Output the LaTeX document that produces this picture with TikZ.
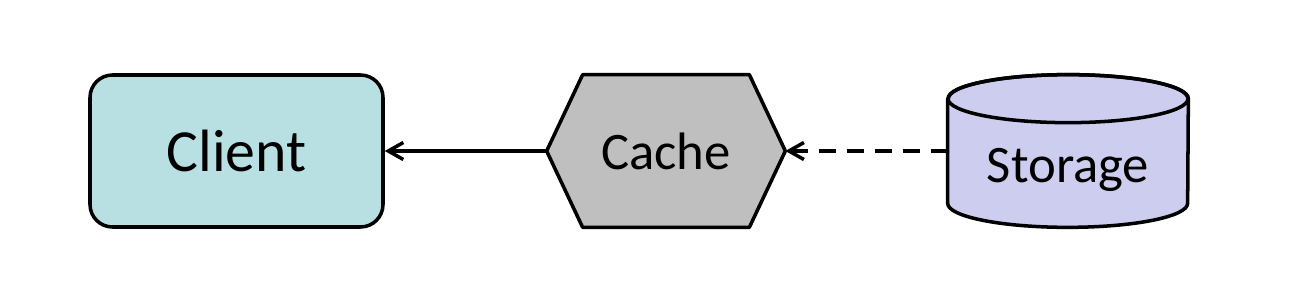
\documentclass[tikz,border=0pt]{standalone}
\usepackage{fontspec}
\setmainfont{Carlito}
\usetikzlibrary{arrows.meta,backgrounds}
\definecolor{clientfill}{RGB}{184,224,227}
\definecolor{cachefill}{RGB}{191,191,191}
\definecolor{storefill}{RGB}{205,205,239}

\begin{document}
\begin{tikzpicture}[
    box/.style={minimum height=3.04cm, inner sep=0pt},
    edge/.style={draw, line width=2pt, line join=round},
    link/.style={line width=2pt, {Straight Barb[length=0.3cm, width=0.34cm]}-}
  ]
            \useasboundingbox (0,0) rectangle (25.8,5.92);
            % Client
            \node[box, edge, fill=clientfill, rounded corners=0.45cm, minimum width=5.86cm, font=\fontsize{34}{40}\selectfont] (client) at (4.73,2.9) {Client};
            % Cache
            \node[box, minimum width=4.76cm, font=\fontsize{30}{36}\selectfont] (cache) at (13.32,2.9) {Cache};
            % Storage
            \node[box, minimum width=4.8cm] (storage) at (21.36,2.9) {};
            \node[font=\fontsize{30}{36}\selectfont] (storagetext) at ([yshift=-0.38cm]storage.center) {Storage};
            \begin{scope}[on background layer]
              % hexagon
              \path[edge, fill=cachefill] (cache.west) -- ([xshift=0.72cm]cache.north west) -- ([xshift=-0.72cm]cache.north east)
                -- (cache.east) -- ([xshift=-0.72cm]cache.south east) -- ([xshift=0.72cm]cache.south west) -- cycle;
              % cylinder
              \path[edge, fill=storefill] ([yshift=-0.48cm]storage.north west) -- ([yshift=0.48cm]storage.south west)
                arc[start angle=180, end angle=360, x radius=2.4cm, y radius=0.48cm] -- ([yshift=-0.48cm]storage.north east)
                arc[start angle=0, end angle=180, x radius=2.4cm, y radius=0.48cm] -- cycle;
              \draw[line width=2pt] ([yshift=-0.48cm]storage.north) ellipse[x radius=2.4cm, y radius=0.48cm];
            \end{scope}
            % links
            \draw[link] (client.east) -- (cache.west);
            \draw[link, dash pattern=on 0.34cm off 0.22cm] (cache.east) -- (storage.west);
        \end{tikzpicture}
\end{document}
